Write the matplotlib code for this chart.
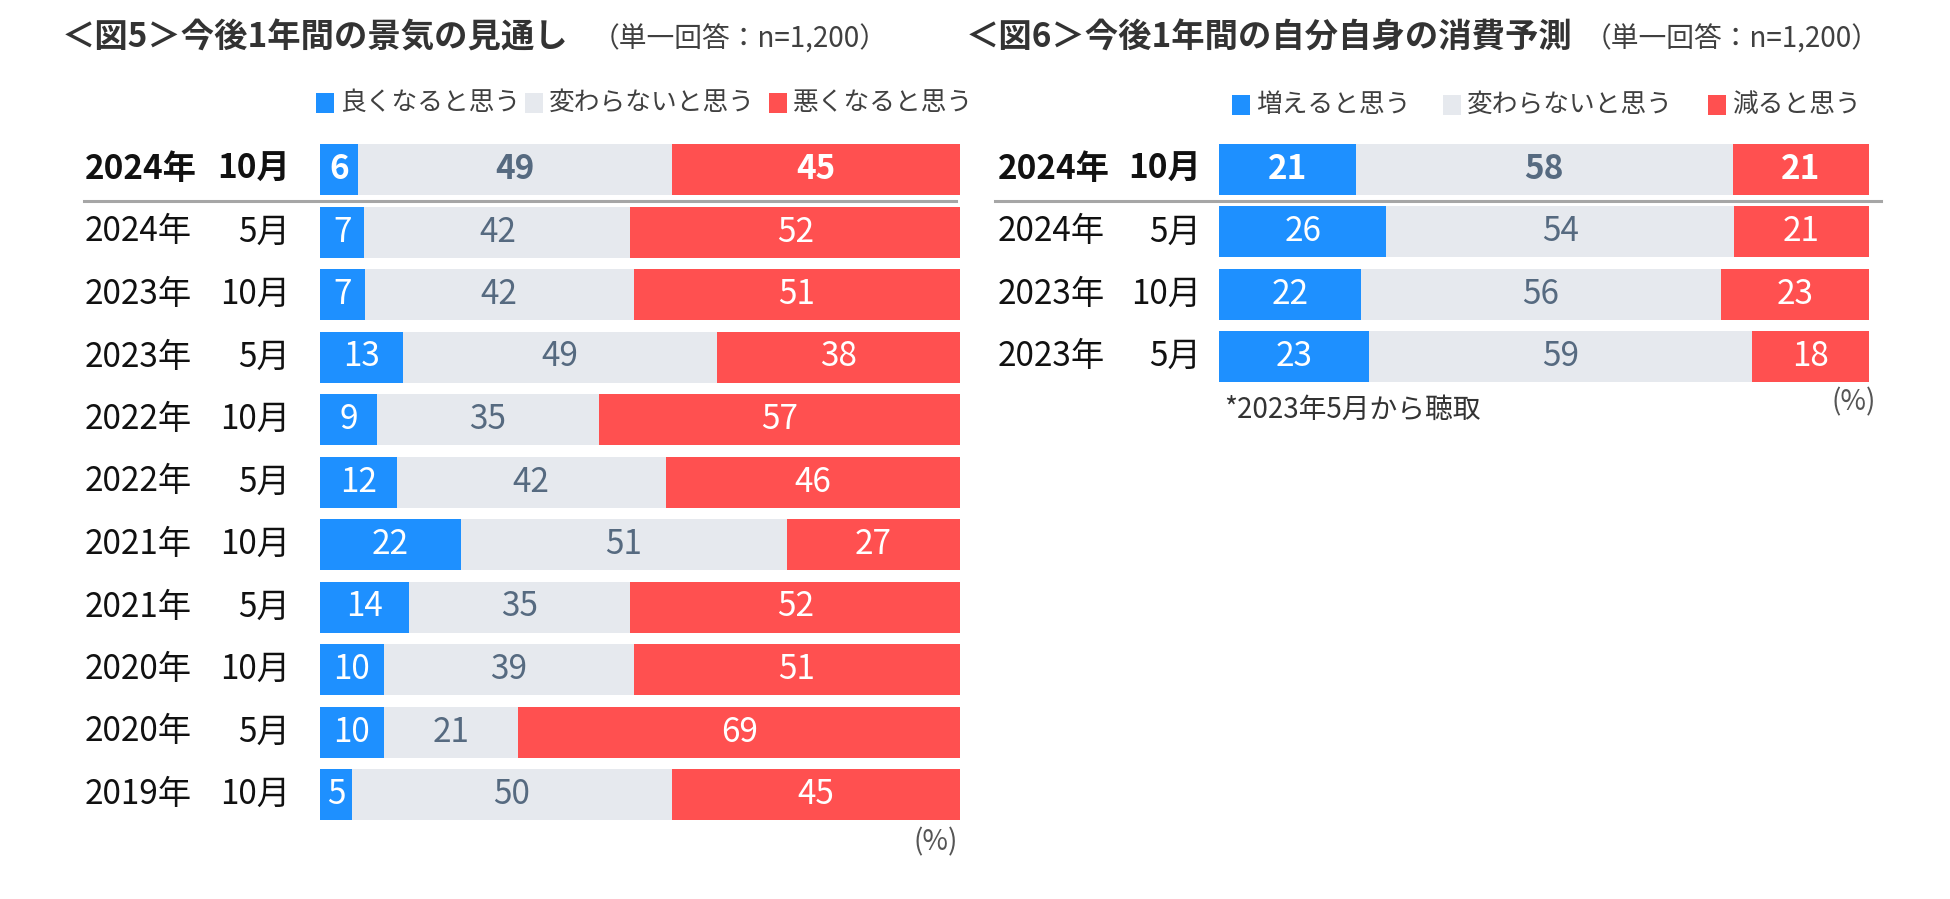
import matplotlib
matplotlib.use("Agg")
import matplotlib.pyplot as plt
from matplotlib.patches import Rectangle
from matplotlib import transforms
import numpy as np

plt.rcParams['font.family'] = ['Noto Sans CJK JP', 'DejaVu Sans']

# ---------------- data ----------------
years_l = ["2024年", "2024年", "2023年", "2023年", "2022年", "2022年",
           "2021年", "2021年", "2020年", "2020年", "2019年"]
months_l = ["10月", "5月", "10月", "5月", "10月", "5月", "10月", "5月", "10月", "5月", "10月"]
good_l = [6, 7, 7, 13, 9, 12, 22, 14, 10, 10, 5]
same_l = [49, 42, 42, 49, 35, 42, 51, 35, 39, 21, 50]
bad_l = [45, 52, 51, 38, 57, 46, 27, 52, 51, 69, 45]

years_r = ["2024年", "2024年", "2023年", "2023年"]
months_r = ["10月", "5月", "10月", "5月"]
up_r = [21, 26, 22, 23]
same_r = [58, 54, 56, 59]
down_r = [21, 21, 23, 18]

legend_l = ["良くなると思う", "変わらないと思う", "悪くなると思う"]
legend_r = ["増えると思う", "変わらないと思う", "減ると思う"]
title_l = "＜図5＞今後1年間の景気の見通し"
title_r = "＜図6＞今後1年間の自分自身の消費予測"
subtitle = "（単一回答：n=1,200）"
footnote = "*2023年5月から聴取"
unit = "(%)"

# ---------------- style ----------------
W, H = 1950, 899
BLUE = "#1E90FF"
GRAY = "#E6E9EE"
RED = "#FF5050"
SLATE = "#566A80"
colors = [BLUE, GRAY, RED]
txtcolors = ["white", SLATE, "white"]

fig = plt.figure(figsize=(W / 100, H / 100), dpi=100)


def fx(x):
    return x / W


def fy(y):
    return 1 - y / H


def make_axes(x0, x1, top, bottom):
    ax = fig.add_axes([fx(x0), fy(bottom), fx(x1 - x0), (bottom - top) / H])
    ax.set_axis_off()
    return ax


def draw_chart(ax, years, months, series, year_x, month_x, line_x0, line_x1):
    n = len(years)
    arr = np.array(series, dtype=float)  # 3 x n
    tot = arr.sum(axis=0)
    frac = arr / tot
    left = np.zeros(n)
    y = np.arange(n)
    for k in range(3):
        ax.barh(y, frac[k], left=left, height=0.816, color=colors[k], linewidth=0)
        for i in range(n):
            ax.text(left[i] + frac[k][i] / 2, y[i], f"{int(arr[k][i])}",
                    ha="center", va="center", color=txtcolors[k],
                    fontsize=24, fontweight="bold" if i == 0 else "normal")
        left = left + frac[k]
    ax.set_xlim(0, 1)
    ax.set_ylim(n - 0.5, -0.5)
    tr = transforms.blended_transform_factory(fig.transFigure, ax.transData)
    for i in range(n):
        w = "bold" if i == 0 else "normal"
        ax.text(fx(year_x), y[i], years[i], transform=tr, ha="left", va="center",
                fontsize=24, fontweight=w, color="#111111")
        ax.text(fx(month_x), y[i], months[i], transform=tr, ha="right", va="center",
                fontsize=24, fontweight=w, color="#111111")
    ax.plot([fx(line_x0), fx(line_x1)], [0.5, 0.5], transform=tr, color="#A6A6A6",
            linewidth=2.2, clip_on=False)


# left chart
axL = make_axes(320, 960, 138.25, 825.75)
draw_chart(axL, years_l, months_l, [good_l, same_l, bad_l], 85, 290, 84, 956)

# right chart
axR = make_axes(1219, 1869, 138.35, 387.65)
draw_chart(axR, years_r, months_r, [up_r, same_r, down_r], 998, 1201, 995, 1881)

# titles
fig.text(fx(62), fy(38), title_l, ha="left", va="center", fontsize=24,
         fontweight="bold", color="#333333")
fig.text(fx(888), fy(40), subtitle, ha="right", va="center", fontsize=20, color="#404040")
fig.text(fx(966), fy(38), title_r, ha="left", va="center", fontsize=24,
         fontweight="bold", color="#333333")
fig.text(fx(1880), fy(40), subtitle, ha="right", va="center", fontsize=20, color="#404040")


def legend(items, sq_x, txt_x, yc):
    for lab, c, sx, tx in zip(items, colors, sq_x, txt_x):
        fig.add_artist(Rectangle((fx(sx), fy(yc + 10)), fx(18), 20 / H,
                                 transform=fig.transFigure, color=c, linewidth=0))
        fig.text(fx(tx), fy(yc), lab, ha="left", va="center", fontsize=18.5,
                 color="#404040")


legend(legend_l, [316, 525, 769], [340, 549, 793], 103)
legend(legend_r, [1232, 1443, 1708], [1256, 1467, 1732], 105)

# notes
fig.text(fx(1224), fy(410), footnote, ha="left", va="center", fontsize=20, color="#333333")
fig.text(fx(1876), fy(402), unit, ha="right", va="center", fontsize=20, color="#555555")
fig.text(fx(958), fy(842), unit, ha="right", va="center", fontsize=20, color="#555555")

fig.savefig("out.png", dpi=100, facecolor="white")
